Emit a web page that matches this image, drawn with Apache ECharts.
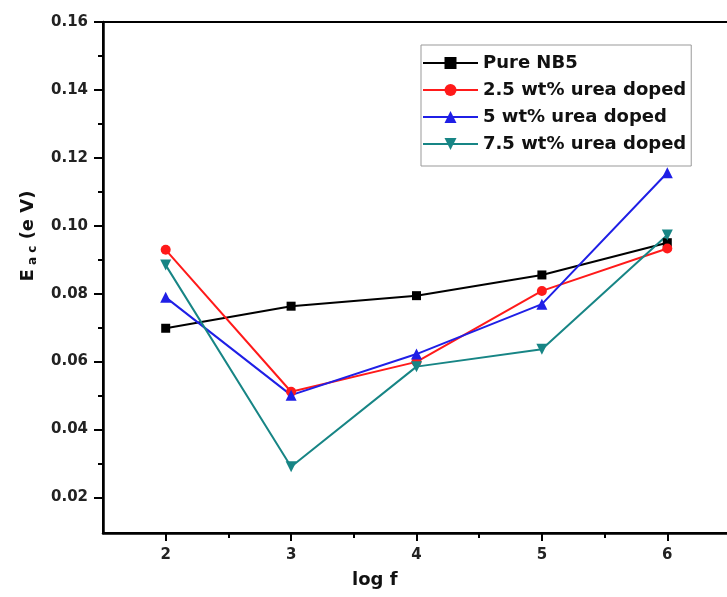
<!DOCTYPE html>
<html>
<head>
<meta charset="utf-8">
<script src="https://cdn.jsdelivr.net/npm/echarts@6/dist/echarts.min.js"></script>
<style>
  html, body { margin: 0; padding: 0; background: #fff; }
  #chart { width: 727px; height: 597px; }
</style>
</head>
<body>
<div id="chart"></div>
<script>
// values
const logF = [2, 3, 4, 5, 6];
const pureNB5 = [0.0698, 0.0763, 0.0794, 0.0855, 0.0950];
const urea25 = [0.0929, 0.0511, 0.0599, 0.0808, 0.0933];
const urea5 = [0.0789, 0.0501, 0.0622, 0.0769, 0.1156];
const urea75 = [0.0884, 0.0290, 0.0585, 0.0636, 0.0973];

const seriesNames = ['Pure NB5', '2.5 wt% urea doped', '5 wt% urea doped', '7.5 wt% urea doped'];
const xMajor = [2, 3, 4, 5, 6];
const xMinor = [2.5, 3.5, 4.5, 5.5];
const yMajor = [0.02, 0.04, 0.06, 0.08, 0.10, 0.12, 0.14, 0.16];
const yMinor = [0.03, 0.05, 0.07, 0.09, 0.11, 0.13, 0.15];

const font = 'DejaVu Sans';
const chart = echarts.init(document.getElementById('chart'));

function pairs(ys) {
  return logF.map((x, i) => [x, ys[i]]);
}

function line(name, ys, color, symbol, size, rotate) {
  return {
    name: name,
    type: 'line',
    data: pairs(ys),
    color: color,
    symbol: symbol,
    symbolSize: size,
    symbolRotate: rotate || 0,
    lineStyle: { width: 2, color: color },
    itemStyle: { color: color },
    xAxisIndex: 0,
    yAxisIndex: 0
  };
}

const tickLabel = { fontFamily: font, fontWeight: 'bold', fontSize: 15, color: '#222' };

chart.setOption({
  animation: false,
  backgroundColor: '#fff',
  grid: {
    left: 103, top: 22, right: -3, bottom: 64,
    show: true, borderColor: '#000', borderWidth: 2,
    outerBoundsMode: 'none'
  },
  legend: {
    orient: 'vertical',
    left: 421, top: 45,
    padding: [9, 5, 13, 1],
    itemGap: 9,
    itemWidth: 55,
    itemHeight: 15,
    backgroundColor: '#fff',
    borderColor: '#999',
    borderWidth: 1,
    textStyle: { fontFamily: font, fontWeight: 'bold', fontSize: 18, color: '#111' },
    data: seriesNames
  },
  xAxis: [
    {
      type: 'value', min: 1.5, max: 6.5,
      axisLine: { onZero: false, lineStyle: { color: '#000', width: 2.5 } },
      axisTick: { customValues: xMajor, length: 8, lineStyle: { width: 2, color: '#000' } },
      axisLabel: Object.assign({ customValues: xMajor, margin: 15 }, tickLabel),
      splitLine: { show: false }
    },
    {
      type: 'value', min: 1.5, max: 6.5, position: 'bottom',
      axisLine: { show: false },
      axisTick: { customValues: xMinor, length: 5, lineStyle: { width: 2, color: '#000' } },
      axisLabel: { show: false },
      splitLine: { show: false }
    }
  ],
  yAxis: [
    {
      type: 'value', min: 0.0095, max: 0.16,
      axisLine: { show: true, onZero: false, lineStyle: { color: '#000', width: 2.5 } },
      axisTick: { show: true, customValues: yMajor, length: 9, lineStyle: { width: 2, color: '#000' } },
      axisLabel: Object.assign({
        customValues: yMajor, margin: 15,
        formatter: v => v.toFixed(2)
      }, tickLabel),
      splitLine: { show: false }
    },
    {
      type: 'value', min: 0.0095, max: 0.16, position: 'left',
      axisLine: { show: false },
      axisTick: { show: true, customValues: yMinor, length: 5, lineStyle: { width: 2, color: '#000' } },
      axisLabel: { show: false },
      splitLine: { show: false }
    }
  ],
  graphic: [
    {
      type: 'text', left: 352, top: 571,
      style: { text: 'log f', fontFamily: font, fontWeight: 'bold', fontSize: 18, fill: '#111' }
    },
    {
      type: 'text', x: 28, y: 236, rotation: Math.PI / 2,
      style: {
        text: '{a|E}{s| a c}{a| (e V)}',
        align: 'center', verticalAlign: 'middle',
        rich: {
          a: { fontFamily: font, fontWeight: 'bold', fontSize: 18, fill: '#111', lineHeight: 22 },
          s: { fontFamily: font, fontWeight: 'bold', fontSize: 12, fill: '#111', lineHeight: 12, verticalAlign: 'bottom' }
        }
      }
    }
  ],
  series: [
    line(seriesNames[0], pureNB5, '#000000', 'rect', 9),
    line(seriesNames[1], urea25, '#ff1a1a', 'circle', 10),
    line(seriesNames[2], urea5, '#1f1fe6', 'triangle', 11),
    line(seriesNames[3], urea75, '#178585', 'triangle', 11, 180)
  ]
});
</script>
</body>
</html>
